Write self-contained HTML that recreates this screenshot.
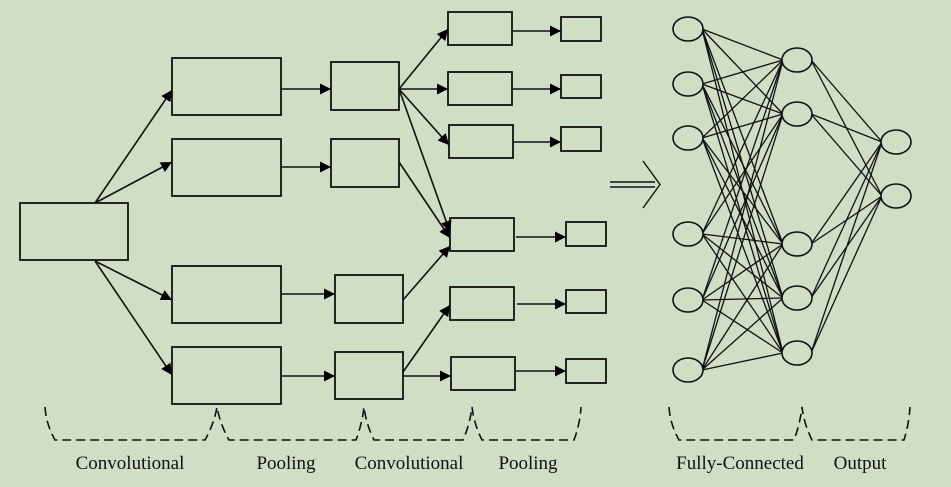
<!DOCTYPE html>
<html><head><meta charset="utf-8"><style>body{margin:0;background:#cfdec4}svg{display:block}</style></head><body>
<svg width="951" height="487" viewBox="0 0 951 487" xmlns="http://www.w3.org/2000/svg">
<defs><marker id="a" viewBox="0 0 10 10" refX="10" refY="5" markerWidth="13" markerHeight="11" markerUnits="userSpaceOnUse" orient="auto"><path d="M0,0L10,5L0,10z" fill="#000"/></marker></defs>
<rect width="951" height="487" fill="#cfdec4"/>
<g fill="none" stroke="#111" stroke-width="1.8">
<rect x="20" y="203" width="108" height="57"/>
<rect x="172" y="58" width="109" height="57"/><rect x="172" y="139" width="109" height="57"/>
<rect x="172" y="266" width="109" height="57"/><rect x="172" y="347" width="109" height="57"/>
<rect x="331" y="62" width="68" height="48"/><rect x="331" y="139" width="68" height="48"/>
<rect x="335" y="275" width="68" height="48"/><rect x="335" y="352" width="68" height="47"/>
<rect x="448" y="12" width="64" height="33"/><rect x="448" y="72" width="64" height="33"/><rect x="449" y="125" width="64" height="33"/>
<rect x="450" y="218" width="64" height="33"/><rect x="450" y="287" width="64" height="33"/><rect x="451" y="357" width="64" height="33"/>
<rect x="561" y="17" width="40" height="24"/><rect x="561" y="75" width="40" height="23"/><rect x="561" y="127" width="40" height="24"/>
<rect x="566" y="222" width="40" height="24"/><rect x="566" y="290" width="40" height="23"/><rect x="566" y="359" width="40" height="24"/>
</g>
<g stroke="#111" stroke-width="1.6" marker-end="url(#a)">
<line x1="95" y1="203" x2="172" y2="90"/><line x1="95" y1="203" x2="172" y2="162"/>
<line x1="95" y1="261" x2="172" y2="300"/><line x1="95" y1="261" x2="172" y2="375"/>
<line x1="281" y1="89" x2="331" y2="89"/><line x1="281" y1="167" x2="331" y2="167"/>
<line x1="281" y1="294" x2="335" y2="294"/><line x1="281" y1="376" x2="335" y2="376"/>
<line x1="399" y1="89" x2="448" y2="29"/><line x1="399" y1="89" x2="448" y2="89"/><line x1="399" y1="89" x2="449" y2="145"/>
<line x1="399" y1="89" x2="450" y2="232"/><line x1="399" y1="162" x2="450" y2="238"/>
<line x1="403" y1="300" x2="450" y2="246"/>
<line x1="403" y1="372" x2="450" y2="305"/><line x1="403" y1="376" x2="451" y2="376"/>
<line x1="512" y1="31" x2="561" y2="31"/><line x1="512" y1="89" x2="561" y2="89"/><line x1="513" y1="142" x2="561" y2="142"/>
<line x1="516" y1="237" x2="566" y2="237"/><line x1="517" y1="304" x2="566" y2="304"/><line x1="516" y1="371" x2="566" y2="371"/>
</g>
<g fill="none" stroke="#111" stroke-width="1.6" stroke-dasharray="9,5">
<path d="M45,407 Q46,424 55,440 L205,440 Q214,424 217,407 Q220,424 229,440 L356,440 Q362,424 364,407 Q366,424 374,440 L463,440 Q470,424 472,407 Q474,424 482,440 L574,440 Q580,424 581,407"/>
<path d="M669,407 Q670,424 679,440 L794,440 Q800,424 802,407 Q804,424 812,440 L904,440 Q909,424 910,407"/>
</g>
<g font-family="Liberation Serif, serif" font-size="19" fill="#111" text-anchor="middle">
<text x="130" y="469">Convolutional</text><text x="286" y="469">Pooling</text>
<text x="409" y="469">Convolutional</text><text x="528" y="469">Pooling</text>
<text x="740" y="469">Fully-Connected</text><text x="860" y="469">Output</text>
</g>
<g fill="none" stroke="#111" stroke-width="1.4">
<path d="M610,182 L655,182 M610,187 L655,187 M643,161 L660,184.5 L643,208"/>
</g>
<g stroke="#111" stroke-width="1.3" id="e"></g>
<g fill="#cfdec4" stroke="#111" stroke-width="1.6" id="n"></g>
<script>
var c1=[29,84,138,234,300,370],c2=[60,114,244,298,353],c3=[142,196];
var e=document.getElementById('e'),n=document.getElementById('n'),ns='http://www.w3.org/2000/svg';
function L(a,b,c,d){var l=document.createElementNS(ns,'line');l.setAttribute('x1',a);l.setAttribute('y1',b);l.setAttribute('x2',c);l.setAttribute('y2',d);e.appendChild(l);}
function E(x,y){var o=document.createElementNS(ns,'ellipse');o.setAttribute('cx',x);o.setAttribute('cy',y);o.setAttribute('rx',15);o.setAttribute('ry',12);n.appendChild(o);}
c1.forEach(function(a){c2.forEach(function(b){L(702,a,783,b);});});
c2.forEach(function(a){c3.forEach(function(b){L(811,a,882,b);});});
c1.forEach(function(y){E(688,y)});c2.forEach(function(y){E(797,y)});c3.forEach(function(y){E(896,y)});
</script>
</svg>
</body></html>
